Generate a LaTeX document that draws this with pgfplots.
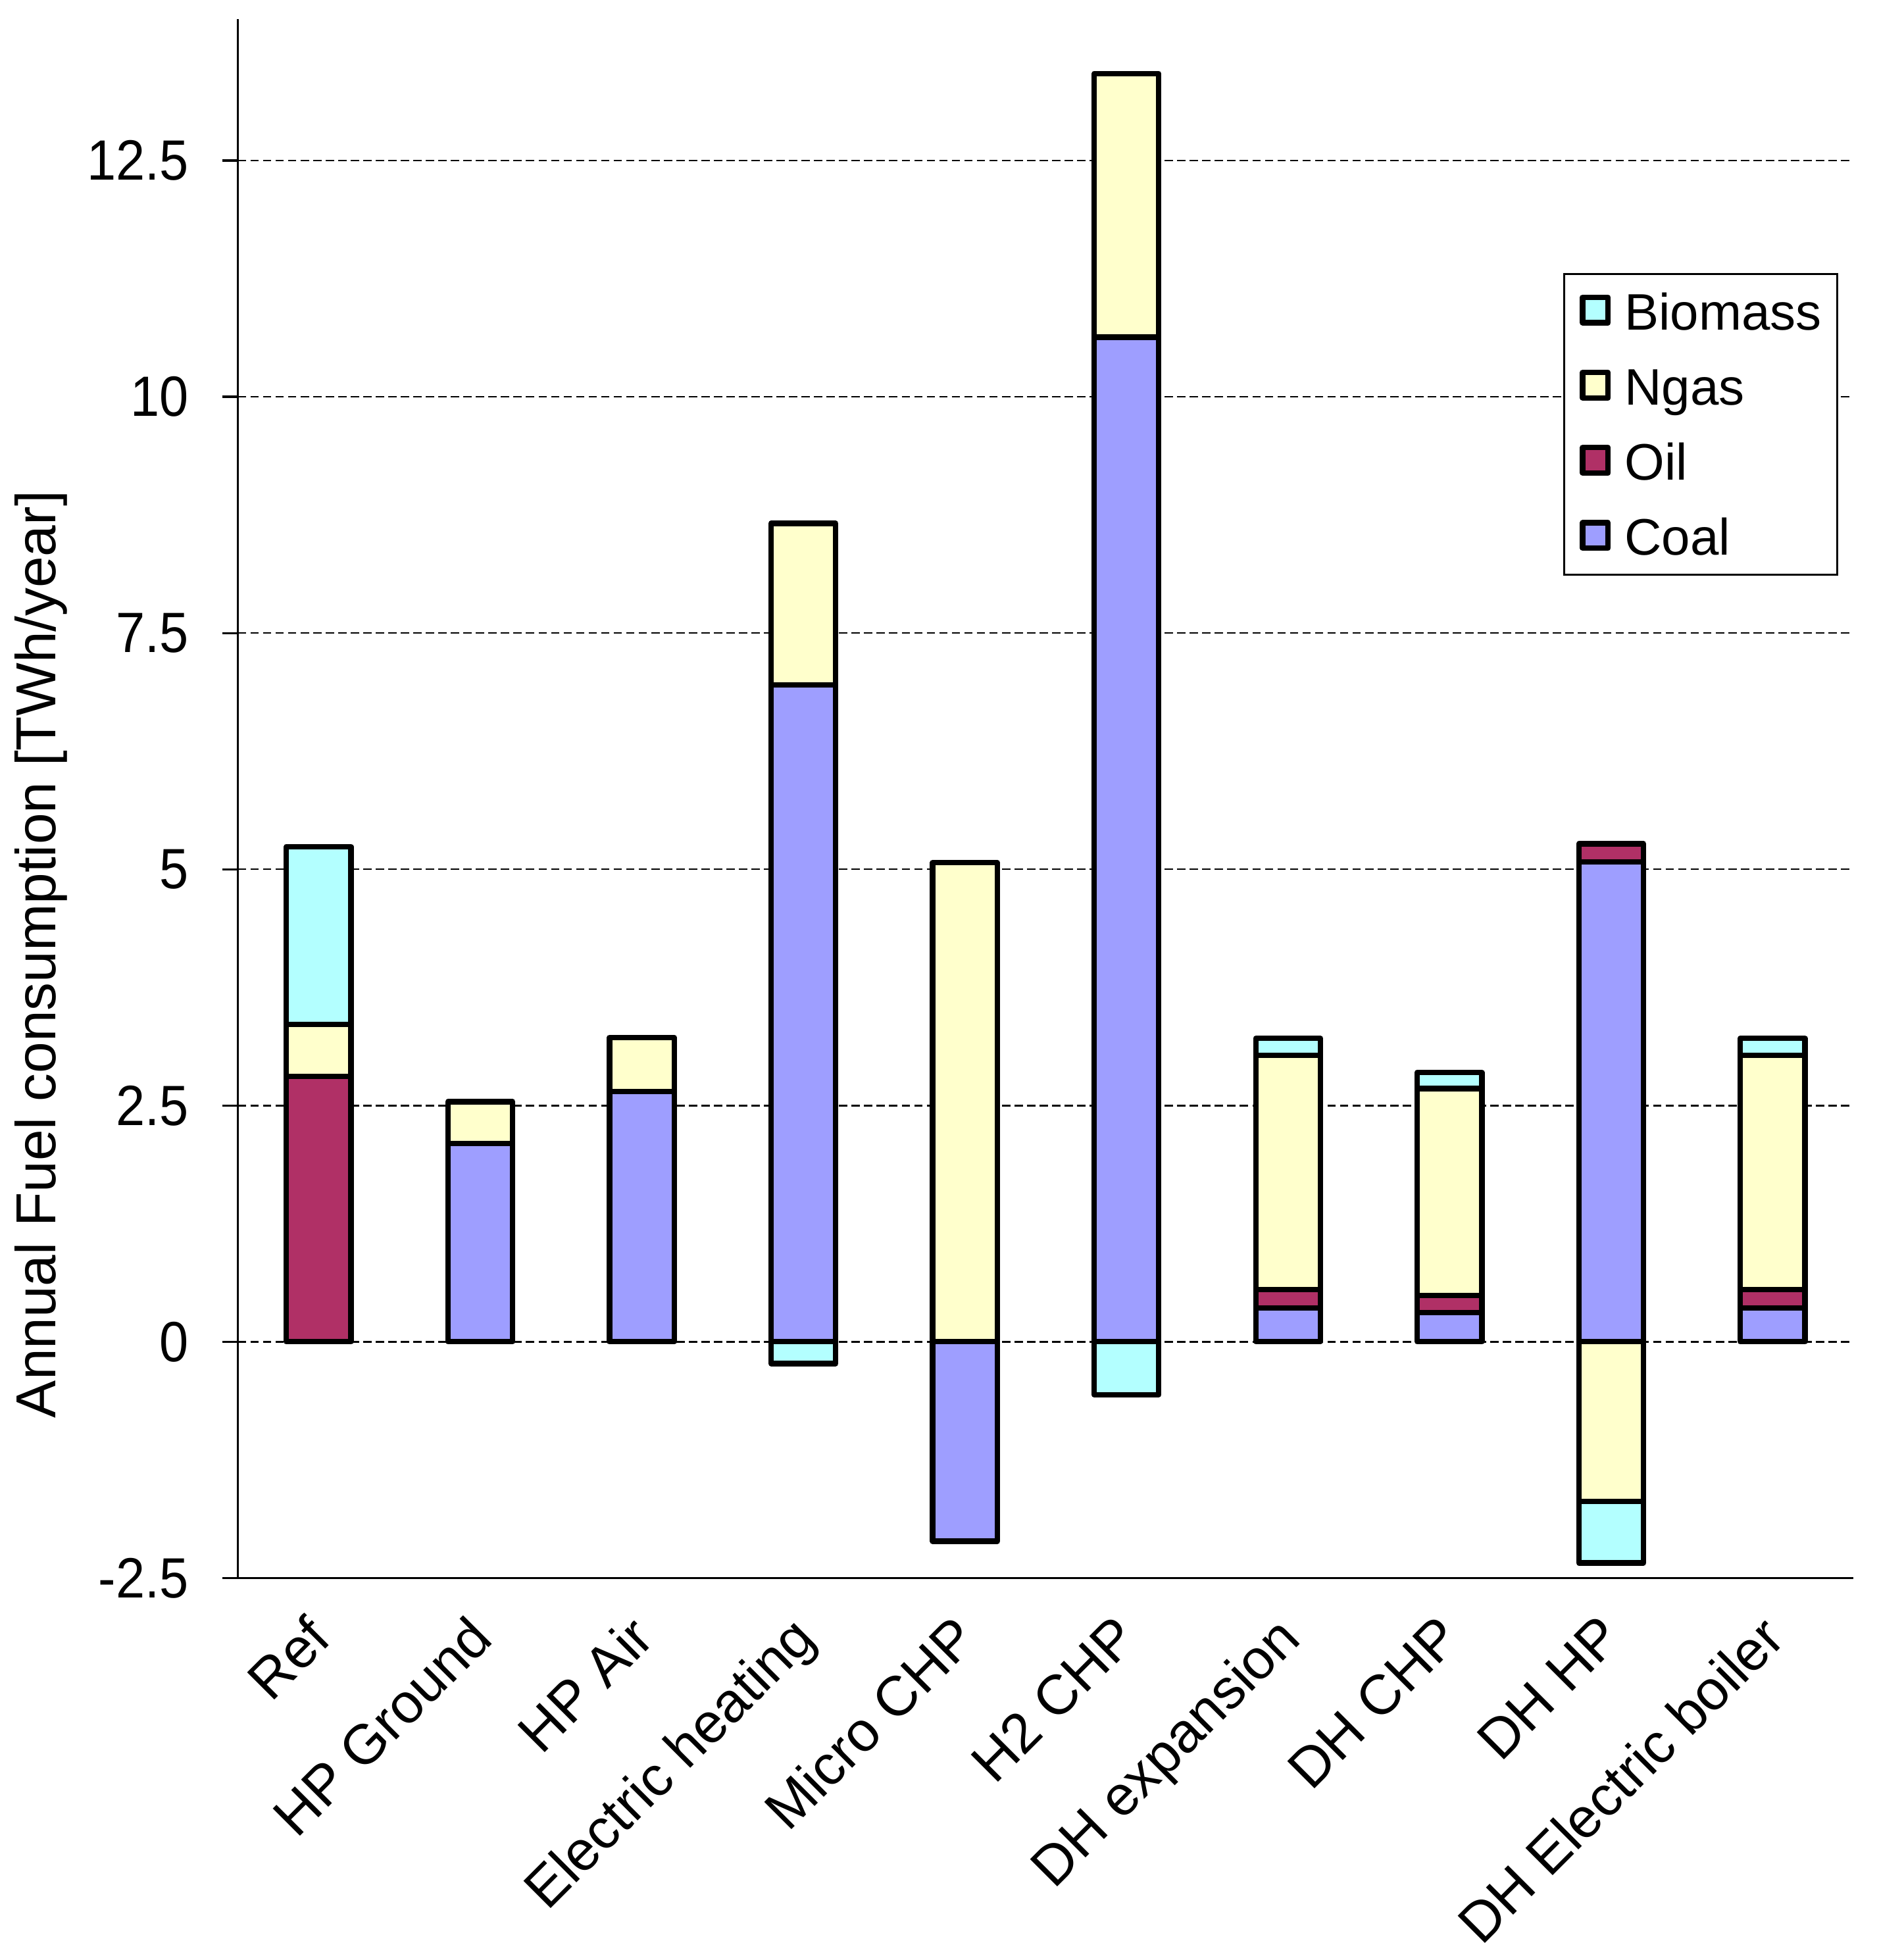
\documentclass[border=0pt]{standalone}
\usepackage{pgfplots}
\pgfplotsset{compat=1.18}
\usepackage{pgfplotstable}
\usepackage{fontspec}
\setmainfont{Liberation Sans}
\newfontfamily\narrowfont[FakeStretch=0.92]{Liberation Sans}
\definecolor{biomass}{RGB}{179,255,255}
\definecolor{ngas}{RGB}{255,255,204}
\definecolor{oil}{RGB}{176,48,102}
\definecolor{coal}{RGB}{158,158,255}

\pgfplotstableread{
x coal oil ngas biomass
0 0     2.81 0.55 1.88
1 2.10  0    0.44 0
2 2.65  0    0.57 0
3 6.95  0    1.71 0
4 0     0    5.07 0
5 10.63 0    2.79 0
6 0.36  0.19 2.48 0.18
7 0.31  0.18 2.19 0.17
8 5.08  0.19 0    0
9 0.36  0.19 2.48 0.18
}\postab

\pgfplotstableread{
x coal ngas biomass
0 0     0     0
1 0     0     0
2 0     0     0
3 0     0     -0.23
4 -2.11 0     0
5 0     0     -0.56
6 0     0     0
7 0     0     0
8 0     -1.69 -0.65
9 0     0     0
}\negtab

\newcommand{\yfont}{\narrowfont\fontsize{13.6}{16}\selectfont}
\newcommand{\xfont}{\fontsize{13.4}{16}\selectfont}
\newcommand{\lfont}{\fontsize{13.5}{16}\selectfont}
\newcommand{\gfont}{\fontsize{12.3}{14.8}\selectfont}

\pgfplotsset{
  common/.style={
    width=387pt, height=373.5pt, scale only axis,
    xmin=-0.5, xmax=9.5, ymin=-2.5, ymax=14,
    enlargelimits=false,
    ybar stacked, bar width=0.4,
  },
  barst/.style={draw=black, line width=1.3pt, line join=round},
}

\begin{document}
\begin{tikzpicture}
\begin{axis}[common,
  axis x line*=bottom, axis y line*=left,
  axis line style={line width=0.5pt, black},
  ytick={-2.5,0,2.5,5,7.5,10,12.5},
  yticklabels={-2.5,0,2.5,5,7.5,10,12.5},
  ymajorgrids,
  grid style={black, line width=0.4pt, dash pattern=on 2pt off 1pt},
  xtick={0,...,9},
  xticklabels={Ref,HP Ground,HP Air,Electric heating,Micro CHP,H2 CHP,DH expansion,DH CHP,DH HP,DH Electric boiler},
  x tick style={draw=none},
  y tick style={black, line width=0.5pt},
  tick align=outside, major tick length=3.8pt,
  yticklabel style={font=\yfont, inner sep=0pt, xshift=-7.8pt},
  xticklabel style={font=\xfont, xshift=-3.4pt, yshift=-4.2pt, rotate=45, anchor=north east, inner sep=0pt},
  ylabel={Annual Fuel consumption [TWh/year]},
  ylabel style={font=\lfont, at={(axis description cs:-0.1217,0.40)}, anchor=center},
  legend style={at={(0.9907,0.8369)}, anchor=north east, draw=black, line width=0.5pt,
    inner xsep=3.8pt, inner ysep=0pt, row sep=0pt, column sep=3.3pt, font=\gfont,
    cells={anchor=west},
    nodes={inner sep=0pt, text height=13.3pt, text depth=4.7pt}},
  legend image code/.code={\draw[#1, line width=1.3pt, line join=round] (0pt,-2.65pt) rectangle (6.1pt,3.45pt);},
  reverse legend,
]
\addplot[barst, fill=coal] table[x=x, y=coal] {\postab};
\addlegendentry{Coal}
\addplot[barst, fill=oil] table[x=x, y=oil] {\postab};
\addlegendentry{Oil}
\addplot[barst, fill=ngas] table[x=x, y=ngas] {\postab};
\addlegendentry{Ngas}
\addplot[barst, fill=biomass] table[x=x, y=biomass] {\postab};
\addlegendentry{Biomass}
\end{axis}
\begin{axis}[common, hide axis]
\addplot[barst, fill=coal] table[x=x, y=coal] {\negtab};
\addplot[barst, fill=ngas] table[x=x, y=ngas] {\negtab};
\addplot[barst, fill=biomass] table[x=x, y=biomass] {\negtab};
\end{axis}
\path (current axis.north east) -- ++(6pt,4.5pt);
\path (current axis.south west) -- ++(-57pt,-91.5pt);
\end{tikzpicture}
\end{document}
